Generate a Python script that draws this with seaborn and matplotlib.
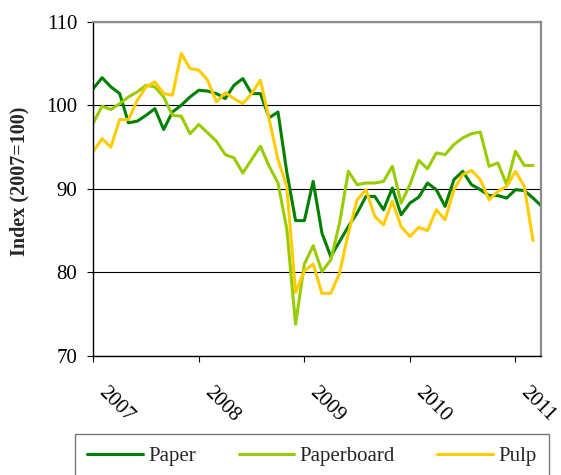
import matplotlib
matplotlib.use("Agg")
import matplotlib.pyplot as plt
import matplotlib.transforms as mtransforms
import numpy as np
import pandas as pd
import seaborn as sns

# monthly index values, Jan 2007 onwards (2007 = 100)
paper = [102.0, 103.3, 102.2, 101.4, 97.9, 98.1, 98.8, 99.6, 97.1, 99.2, 100.0, 101.0, 101.8,
         101.7, 101.4, 100.8, 102.4, 103.2, 101.4, 101.4, 98.5, 99.2, 92.0, 86.2,
         86.2, 90.9, 84.7, 81.9, 83.7, 85.5, 87.1, 89.1, 89.1, 87.5, 90.1, 86.9, 88.3,
         89.0, 90.7, 89.9, 87.9, 91.1, 92.1, 90.5, 89.9, 89.2, 89.2, 88.9, 89.9, 89.8, 88.9, 87.9]
paperboard = [97.9, 99.9, 99.5, 100.2, 101.0, 101.6, 102.4, 102.2, 101.0, 98.8, 98.7, 96.6, 97.7,
              96.7, 95.7, 94.1, 93.7, 91.9, 93.5, 95.1, 92.7, 90.7, 85.2, 73.8,
              81.0, 83.2, 80.1, 81.5, 85.9, 92.1, 90.5, 90.7, 90.7, 90.9, 92.7, 88.3, 90.5,
              93.4, 92.4, 94.3, 94.1, 95.3, 96.1, 96.6, 96.8, 92.7, 93.1, 90.5, 94.5, 92.8, 92.8]
pulp = [94.5, 96.0, 95.0, 98.3, 98.3, 100.6, 102.2, 102.8, 101.4, 101.2, 106.2, 104.4, 104.2,
        103.0, 100.4, 101.5, 100.8, 100.2, 101.4, 103.0, 98.3, 93.5, 90.3, 77.6,
        80.2, 81.0, 77.5, 77.5, 79.9, 84.7, 88.7, 89.9, 86.7, 85.7, 88.5, 85.5, 84.3,
        85.4, 85.0, 87.5, 86.3, 89.9, 91.7, 92.2, 91.1, 88.7, 89.7, 90.3, 92.1, 90.3, 83.8]

series_names = ["Paper", "Paperboard", "Pulp"]
colors = ["#008000", "#99CC00", "#FFCC00"]
years = [2007, 2008, 2009, 2010, 2011]
y_ticks = [70, 80, 90, 100, 110]

frames = []
for name, vals in zip(series_names, [paper, paperboard, pulp]):
    frames.append(pd.DataFrame({"date": 2007 + np.arange(len(vals)) / 12, "index": vals, "series": name}))
df = pd.concat(frames, ignore_index=True)

sns.set_theme(style="ticks")
plt.rcParams["font.family"] = ["Liberation Serif", "DejaVu Serif"]

fig = plt.figure(figsize=(5.61, 4.75), dpi=100)
ax = fig.add_axes([0.1663, 0.2505, 0.798, 0.7038])

sns.lineplot(data=df, x="date", y="index", hue="series", hue_order=series_names,
             palette=colors, linewidth=2.2, ax=ax)

ax.set_xlim(2007, 2007 + 50.9 / 12)
ax.set_ylim(70, 110)
ax.set_yticks(y_ticks)
ax.set_xticks(years)
ax.set_xticklabels([str(y) for y in years], rotation=-45, ha="left", va="top",
                   rotation_mode="anchor")
ax.tick_params(axis="both", direction="out", length=4.5, width=0.8, color="black",
               labelsize=15, labelcolor="black")
ax.tick_params(axis="x", pad=15)
ax.tick_params(axis="y", pad=7)
shift = mtransforms.ScaledTranslation(0.15, 0, fig.dpi_scale_trans)
for lab in ax.get_xticklabels():
    lab.set_transform(lab.get_transform() + shift)

ax.yaxis.grid(True, color="black", linewidth=0.8)
ax.set_axisbelow(True)
for side in ["left", "bottom"]:
    ax.spines[side].set_color("black")
    ax.spines[side].set_linewidth(1.0)
for side in ["top", "right"]:
    ax.spines[side].set_visible(True)
    ax.spines[side].set_color("#8c8c8c")
    ax.spines[side].set_linewidth(1.6)

ax.set_xlabel("")
ax.set_ylabel("Index (2007=100)", fontsize=14.5, fontweight="bold", va="center")
ax.yaxis.set_label_coords(-0.164, 0.522)

sns.move_legend(ax, "upper left", bbox_to_anchor=(0.1332, 0.0863), bbox_transform=fig.transFigure,
                ncol=3, title=None, frameon=True, fancybox=False, fontsize=15,
                borderpad=0.6, borderaxespad=0, handlelength=2.67, handletextpad=0.25,
                columnspacing=2.05)
leg = ax.get_legend()
leg.get_frame().set_edgecolor("#555555")
leg.get_frame().set_linewidth(1.0)
for h in leg.legend_handles:
    h.set_linewidth(2.2)

fig.savefig("out.png", dpi=100)
